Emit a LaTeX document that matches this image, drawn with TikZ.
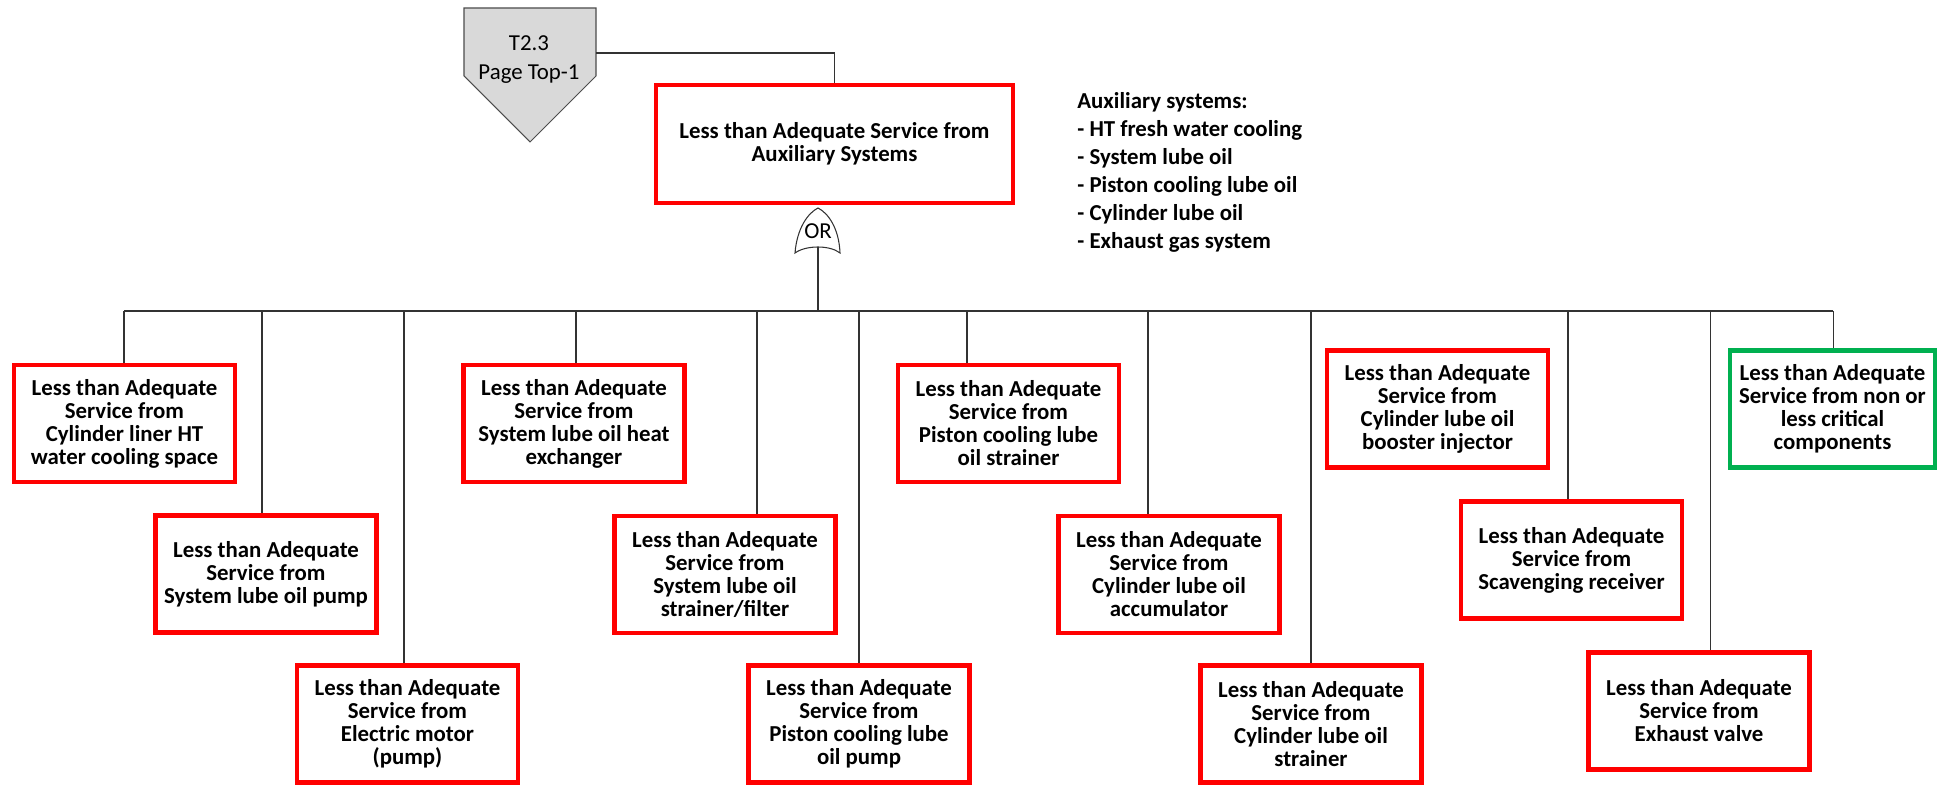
\documentclass[tikz,border=0pt]{standalone}
\usepackage{fontspec}
\setmainfont{Carlito}
\usetikzlibrary{positioning, calc}

\definecolor{evred}{HTML}{FF0000}
\definecolor{evgreen}{HTML}{00B050}
\definecolor{gategray}{HTML}{D9D9D9}

\newcommand{\boxfont}{\fontsize{13}{13.1}\selectfont\bfseries}
\newcommand{\gatefont}{\fontsize{13}{16.5}\selectfont}
\newcommand{\notefont}{\fontsize{13}{16}\selectfont\bfseries}

\tikzset{
  event/.style={draw=evred, line width=2.5pt, minimum width=4.42cm, minimum height=2.34cm,
    align=center, font=\boxfont, inner sep=2pt},
  wire/.style={draw=black!80, line width=0.6pt},
  gateline/.style={draw=black!80, line width=0.6pt, fill=white},
  xfershape/.style={draw=black!70, line width=0.6pt, fill=gategray}
}

\begin{document}
\begin{tikzpicture}[x=0.02cm, y=-0.02cm]
\useasboundingbox (0,0) rectangle (1939,786);
% Transfer-in gate
\draw[xfershape] (464,8) -- (596,8) -- (596,76) -- (530,142) -- (464,76) -- cycle;
\node[font=\gatefont, align=center] (xfer) at (529,60) {T2.3\\Page Top-1};
% Top event
\node[event, minimum width=7.13cm, minimum height=2.35cm] (top) at (834.5,144)
  {Less than Adequate Service from\\Auxiliary Systems};
\coordinate (xferout) at (596,53);
\draw[wire] (xferout) -| (top.north);
% Note
\node[anchor=north west, inner sep=0pt, align=left, font=\notefont] (note) at (1077,92)
  {Auxiliary systems:\\- HT fresh water cooling\\- System lube oil\\- Piston cooling lube oil\\- Cylinder lube oil\\- Exhaust gas system};
% OR gate
\draw[gateline] (795,253) .. controls (797,228) and (808,213) .. (818,208)
  .. controls (828,213) and (839,228) .. (840,253)
  .. controls (830,245) and (806,245) .. (795,253) -- cycle;
\node[font=\gatefont, inner sep=0pt] (orgate) at (818,231) {OR};
\coordinate (orout) at (818,247);
\coordinate (bus) at (818,311);
\draw[wire] (orout) -- (bus);

% Basic events, row 1
\node[event] (b1) at (124.5,423.5) {Less than Adequate\\Service from\\Cylinder liner HT\\water cooling space};
\node[event] (b4) at (574,423.5) {Less than Adequate\\Service from\\System lube oil heat\\exchanger};
\node[event] (b7) at (1008.5,423.5) {Less than Adequate\\Service from\\Piston cooling lube\\oil strainer};
\node[event] (b10) at (1437.5,409) {Less than Adequate\\Service from\\Cylinder lube oil\\booster injector};
\node[event, draw=evgreen, minimum width=4.09cm] (b13) at (1832.5,409) {Less than Adequate\\Service from non or\\less critical\\components};
% row 2
\node[event] (b2) at (266,574) {Less than Adequate\\Service from\\System lube oil pump};
\node[event] (b5) at (725,574.5) {Less than Adequate\\Service from\\System lube oil\\strainer/filter};
\node[event] (b8) at (1169,574.5) {Less than Adequate\\Service from\\Cylinder lube oil\\accumulator};
\node[event] (b11) at (1571.5,560) {Less than Adequate\\Service from\\Scavenging receiver};
% row 3
\node[event] (b3) at (407.5,724) {Less than Adequate\\Service from\\Electric motor\\(pump)};
\node[event] (b6) at (859,724) {Less than Adequate\\Service from\\Piston cooling lube\\oil pump};
\node[event] (b9) at (1311,724) {Less than Adequate\\Service from\\Cylinder lube oil\\strainer};
\node[event] (b12) at (1699,711) {Less than Adequate\\Service from\\Exhaust valve};

% Connectors from the bus
\foreach \n/\x in {b1/124, b2/262, b3/404, b4/576, b5/757, b6/859, b7/967, b8/1148, b9/1311, b11/1568, b12/1710, b13/1833} {
  \coordinate (t\n) at (\x,311);
  \draw[wire] (t\n) -- (t\n |- \n.north);
}
\draw[wire] (tb1) -- (tb13);
\end{tikzpicture}
\end{document}
